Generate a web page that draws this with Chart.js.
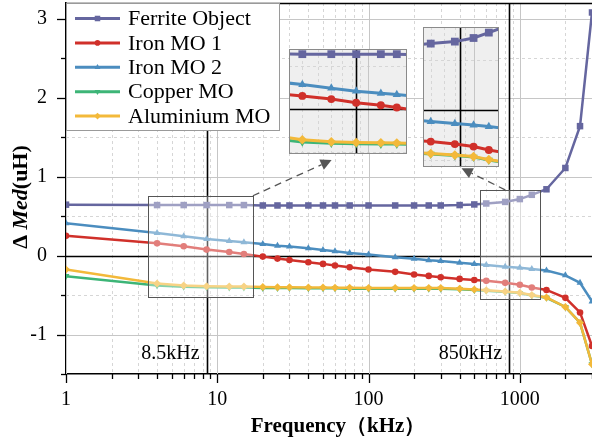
<!DOCTYPE html>
<html>
<head>
<meta charset="utf-8">
<script src="https://cdn.jsdelivr.net/npm/chart.js@4.4.1/dist/chart.umd.min.js"></script>
<style>
  html, body { margin: 0; padding: 0; background: #fff; }
  #wrap { position: relative; width: 592px; height: 444px; }
  canvas { position: absolute; }
</style>
</head>
<body>
<div id="wrap">
  <canvas id="main" width="592" height="444" style="left:0;top:0"></canvas>
  <canvas id="zoomA" width="118" height="105" style="left:289px;top:49px"></canvas>
  <canvas id="zoomB" width="76" height="140" style="left:423px;top:27px"></canvas>
</div>
<script>
// frequencies (kHz)
const frequency = [1, 4, 6, 8.5, 12, 15, 20, 25, 30, 40, 50, 60, 75, 100, 150, 200, 250, 300, 400, 500, 600, 800, 1000, 1200, 1500, 2000, 2500, 3000];

const ferrite  = [0.645, 0.64, 0.64, 0.64, 0.64, 0.64, 0.635, 0.635, 0.635, 0.635, 0.635, 0.635, 0.635, 0.635, 0.635, 0.635, 0.635, 0.635, 0.64, 0.648, 0.66, 0.68, 0.716, 0.77, 0.84, 1.11, 1.64, 3.08];
const ironMo1  = [0.25, 0.155, 0.118, 0.076, 0.046, 0.02, -0.013, -0.038, -0.055, -0.084, -0.105, -0.126, -0.147, -0.177, -0.206, -0.24, -0.257, -0.274, -0.295, -0.31, -0.32, -0.345, -0.37, -0.404, -0.435, -0.535, -0.72, -1.145];
const ironMo2  = [0.41, 0.287, 0.245, 0.21, 0.185, 0.17, 0.147, 0.126, 0.114, 0.092, 0.072, 0.055, 0.034, 0.013, -0.02, -0.04, -0.06, -0.07, -0.09, -0.105, -0.12, -0.14, -0.155, -0.17, -0.19, -0.25, -0.345, -0.58];
const copperMo = [-0.26, -0.38, -0.395, -0.4, -0.405, -0.405, -0.41, -0.41, -0.41, -0.415, -0.415, -0.415, -0.42, -0.42, -0.42, -0.42, -0.42, -0.42, -0.425, -0.435, -0.445, -0.46, -0.475, -0.505, -0.535, -0.65, -0.85, -1.376];
const aluMo    = [-0.177, -0.354, -0.379, -0.387, -0.39, -0.392, -0.398, -0.4, -0.4, -0.404, -0.405, -0.406, -0.408, -0.41, -0.41, -0.41, -0.41, -0.41, -0.42, -0.43, -0.44, -0.455, -0.47, -0.5, -0.53, -0.65, -0.85, -1.376];

const seriesNames = ['Ferrite Object', 'Iron MO 1', 'Iron MO 2', 'Copper MO', 'Aluminium MO'];
const seriesData = [ferrite, ironMo1, ironMo2, copperMo, aluMo];
const seriesColors = ['#65669f', '#d0302a', '#4b8dbf', '#3db577', '#f3b93a'];
const seriesMarkers = ['rect', 'circle', 'triangle', 'triangle', 'rectRot'];
const markerRotation = [0, 0, 0, 180, 0];
const markerSize = [4.6, 3.3, 4, 4, 4];
const drawOrder = [2, 3, 4, 1, 0];

const yTicks = [-1, 0, 1, 2, 3];
const xTicks = [1, 10, 100, 1000];
const markedFreqs = [8.5, 850];
const markedLabels = ['8.5kHz', '850kHz'];

// zoom windows: [xmin, xmax, ymin, ymax]
const boxA = [3.5, 17.2, -0.527, 0.758];
const boxB = [545, 1368, -0.547, 0.833];
const insetA = [3.32, 17.3, -0.52, 0.70];
const insetB = [547, 1355, -0.574, 0.826];

const SERIF = '"Liberation Serif", "DejaVu Serif", serif';

function makeDatasets(k) {
  return seriesNames.map((name, i) => ({
    label: name,
    data: frequency.map((f, j) => ({ x: f, y: seriesData[i][j] })),
    borderColor: seriesColors[i],
    backgroundColor: seriesColors[i],
    borderWidth: 2.5 * k,
    pointStyle: seriesMarkers[i],
    pointRotation: markerRotation[i],
    pointRadius: markerSize[i] * k,
    pointBorderWidth: 0,
    order: drawOrder[i],
    tension: 0,
  }));
}

function gridValues(xs, ys) {
  const xMinor = [], xMajor = [];
  for (let d = 1; d <= 1000; d *= 10) {
    for (let k = 1; k <= 9; k++) {
      const v = k * d;
      if (v < xs.min || v > xs.max) continue;
      (k === 1 ? xMajor : xMinor).push(v);
    }
  }
  const yMinor = [], yMajor = [];
  for (let v = -1.5; v <= 3.5; v += 0.5) {
    if (v < ys.min || v > ys.max) continue;
    (Math.abs(v % 1) < 1e-9 ? yMajor : yMinor).push(v);
  }
  return { xMinor, xMajor, yMinor, yMajor };
}

function drawGrid(chart) {
  const { ctx, chartArea: a, scales: { x, y } } = chart;
  const g = gridValues(x, y);
  const vline = v => { const p = Math.round(x.getPixelForValue(v)) + 0.5; ctx.beginPath(); ctx.moveTo(p, a.top); ctx.lineTo(p, a.bottom); ctx.stroke(); };
  const hline = v => { const p = Math.round(y.getPixelForValue(v)) + 0.5; ctx.beginPath(); ctx.moveTo(a.left, p); ctx.lineTo(a.right, p); ctx.stroke(); };
  ctx.save();
  ctx.beginPath(); ctx.rect(a.left, a.top, a.right - a.left, a.bottom - a.top); ctx.clip();
  ctx.lineWidth = 1;
  ctx.setLineDash([3, 3]);
  ctx.strokeStyle = '#d6d6d6';
  g.xMinor.forEach(vline);
  g.yMinor.forEach(hline);
  ctx.setLineDash([]);
  ctx.strokeStyle = '#c6c6c6';
  g.xMajor.forEach(vline);
  g.yMajor.filter(v => v !== 0).forEach(hline);
  ctx.strokeStyle = '#000';
  ctx.lineWidth = 1.6;
  hline(0);
  markedFreqs.forEach(vline);
  ctx.restore();
}

function drawMarker(ctx, i, x, y, k) {
  Chart.helpers.drawPoint(ctx, {
    pointStyle: seriesMarkers[i], radius: markerSize[i] * k, rotation: markerRotation[i], borderWidth: 0
  }, x, y);
}

const gridPlugin = { id: 'grid', beforeDatasetsDraw: drawGrid };

const mainDecor = {
  id: 'mainDecor',
  afterDraw(chart) {
    const { ctx, chartArea: a, scales: { x, y } } = chart;
    ctx.save();
    // top frame
    ctx.strokeStyle = '#000'; ctx.lineWidth = 1.5;
    ctx.beginPath(); ctx.moveTo(a.left, a.top + 0.5); ctx.lineTo(a.right, a.top + 0.5); ctx.stroke();
    // tick marks
    const g = gridValues(x, y);
    ctx.lineWidth = 1.3;
    g.xMajor.concat(g.xMinor).forEach(v => {
      const p = Math.round(x.getPixelForValue(v)) + 0.5;
      const len = g.xMajor.includes(v) ? 9 : 5;
      ctx.beginPath(); ctx.moveTo(p, a.bottom); ctx.lineTo(p, a.bottom + len); ctx.stroke();
    });
    g.yMajor.concat(g.yMinor).forEach(v => {
      const p = Math.round(y.getPixelForValue(v)) + 0.5;
      const len = g.yMajor.includes(v) ? 9 : 5;
      ctx.beginPath(); ctx.moveTo(a.left, p); ctx.lineTo(a.left - len, p); ctx.stroke();
    });
    // marker labels
    ctx.fillStyle = '#000';
    ctx.font = '20px ' + SERIF;
    ctx.textAlign = 'right'; ctx.textBaseline = 'middle';
    markedFreqs.forEach((f, i) => ctx.fillText(markedLabels[i], x.getPixelForValue(f) - 7, 354));

    // zoom boxes with light veil
    [boxA, boxB].forEach(b => {
      const x1 = x.getPixelForValue(b[0]), x2 = x.getPixelForValue(b[1]);
      const y1 = y.getPixelForValue(b[3]), y2 = y.getPixelForValue(b[2]);
      ctx.fillStyle = 'rgba(255,255,255,0.38)';
      ctx.fillRect(x1, y1, x2 - x1, y2 - y1);
      ctx.strokeStyle = '#555'; ctx.lineWidth = 1;
      ctx.strokeRect(Math.round(x1) + 0.5, Math.round(y1) + 0.5, Math.round(x2 - x1), Math.round(y2 - y1));
    });

    // dashed arrows towards the insets
    const arrow = (x0, y0, x1, y1) => {
      ctx.strokeStyle = '#555'; ctx.fillStyle = '#555'; ctx.lineWidth = 1.3;
      const ang = Math.atan2(y1 - y0, x1 - x0);
      const hl = 11, hw = 5.5;
      const bx = x1 - hl * Math.cos(ang), by = y1 - hl * Math.sin(ang);
      ctx.setLineDash([7, 5]);
      ctx.beginPath(); ctx.moveTo(x0, y0); ctx.lineTo(bx, by); ctx.stroke();
      ctx.setLineDash([]);
      ctx.beginPath();
      ctx.moveTo(x1, y1);
      ctx.lineTo(bx + hw * Math.sin(ang), by - hw * Math.cos(ang));
      ctx.lineTo(bx - hw * Math.sin(ang), by + hw * Math.cos(ang));
      ctx.closePath(); ctx.fill();
    };
    arrow(x.getPixelForValue(boxA[1]), y.getPixelForValue(boxA[3]), x.getPixelForValue(57), y.getPixelForValue(1.21));
    arrow(x.getPixelForValue(800), y.getPixelForValue(boxB[3]), x.getPixelForValue(412), y.getPixelForValue(1.106));

    // legend
    ctx.fillStyle = '#fff';
    ctx.fillRect(66, 3, 213, 127);
    ctx.strokeStyle = '#9a9a9a'; ctx.lineWidth = 1;
    ctx.strokeRect(66.5, 3.5, 213, 127);
    ctx.font = '22px ' + SERIF;
    ctx.textAlign = 'left'; ctx.textBaseline = 'middle';
    seriesNames.forEach((name, i) => {
      const cy = 18.5 + i * 24.4;
      ctx.strokeStyle = seriesColors[i]; ctx.fillStyle = seriesColors[i]; ctx.lineWidth = 3;
      ctx.beginPath(); ctx.moveTo(75, cy); ctx.lineTo(120, cy); ctx.stroke();
      drawMarker(ctx, i, 97.5, cy, 0.85);
      ctx.fillStyle = '#000';
      ctx.fillText(name, 128, cy + 1);
    });

    // axis titles
    ctx.font = 'bold 21px ' + SERIF;
    ctx.textAlign = 'center'; ctx.textBaseline = 'middle';
    ctx.fillText('Frequency（kHz）', 338, 427);

    ctx.translate(21, 197);
    ctx.rotate(-Math.PI / 2);
    const parts = [['Δ ', 'bold 22px '], ['Med', 'italic bold 22px '], ['(uH)', 'bold 22px ']];
    let total = 0;
    parts.forEach(p => { ctx.font = p[1] + SERIF; total += ctx.measureText(p[0]).width; });
    let cx = -total / 2;
    ctx.textAlign = 'left';
    parts.forEach(p => { ctx.font = p[1] + SERIF; ctx.fillText(p[0], cx, 0); cx += ctx.measureText(p[0]).width; });
    ctx.restore();
  }
};

new Chart(document.getElementById('main'), {
  type: 'line',
  data: { datasets: makeDatasets(1) },
  options: {
    responsive: false,
    animation: false,
    events: [],
    layout: { autoPadding: false, padding: { top: 3, right: 0, left: 0, bottom: 0 } },
    plugins: { legend: { display: false }, tooltip: { enabled: false } },
    scales: {
      x: {
        type: 'logarithmic', min: 1, max: 3000,
        afterBuildTicks: s => { s.ticks = xTicks.map(v => ({ value: v })); },
        afterFit: s => { s.height = 70; s.paddingLeft = 0; s.paddingRight = 0; },
        grid: { display: false, drawTicks: false },
        border: { display: true, color: '#000', width: 1.5 },
        ticks: { padding: 14, color: '#000', font: { family: SERIF, size: 20 }, callback: v => String(v), maxRotation: 0, autoSkip: false }
      },
      y: {
        min: -1.5, max: 3.2,
        afterBuildTicks: s => { s.ticks = yTicks.map(v => ({ value: v })); },
        afterFit: s => { s.width = 66; s.paddingTop = 0; s.paddingBottom = 0; },
        grid: { display: false, drawTicks: false },
        border: { display: true, color: '#000', width: 1.5 },
        ticks: { padding: 19, color: '#000', font: { family: SERIF, size: 20 }, callback: v => String(v) }
      }
    }
  },
  plugins: [gridPlugin, mainDecor]
});

function makeInset(id, r) {
  new Chart(document.getElementById(id), {
    type: 'line',
    data: { datasets: makeDatasets(1.2) },
    options: {
      responsive: false,
      animation: false,
      events: [],
      layout: { autoPadding: false, padding: 0 },
      plugins: { legend: { display: false }, tooltip: { enabled: false } },
      scales: {
        x: { type: 'logarithmic', min: r[0], max: r[1], display: false },
        y: { min: r[2], max: r[3], display: false }
      }
    },
    plugins: [{
      id: 'insetFrame',
      beforeDraw(chart) {
        const { ctx, width, height } = chart;
        ctx.save(); ctx.fillStyle = '#efefef'; ctx.fillRect(0, 0, width, height); ctx.restore();
      },
      afterDraw(chart) {
        const { ctx, width, height } = chart;
        ctx.save(); ctx.strokeStyle = '#8a8a8a'; ctx.lineWidth = 1;
        ctx.strokeRect(0.5, 0.5, width - 1, height - 1); ctx.restore();
      }
    }, gridPlugin]
  });
}
makeInset('zoomA', insetA);
makeInset('zoomB', insetB);
</script>
</body>
</html>
